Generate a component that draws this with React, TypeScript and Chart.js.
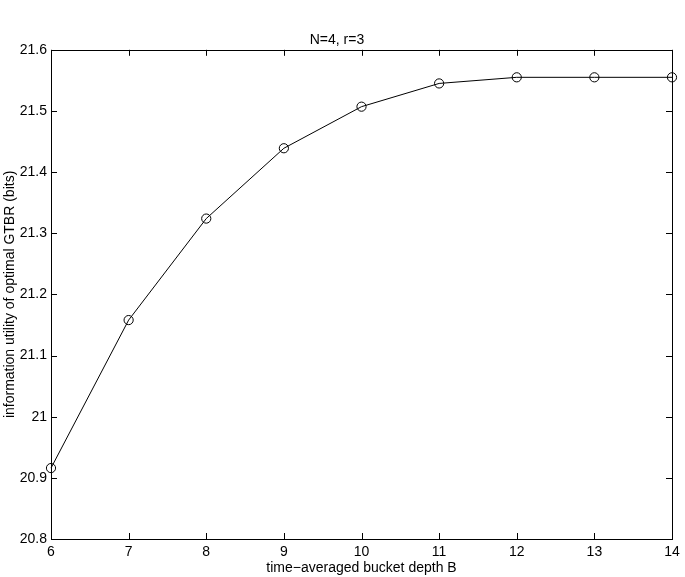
import React, { useEffect, useRef } from "react";
import { Chart, registerables } from "chart.js";

Chart.register(...registerables);

const depthB = [6, 7, 8, 9, 10, 11, 12, 13, 14];
const utilityBits = [20.916, 21.158, 21.324, 21.439, 21.507, 21.545, 21.555, 21.555, 21.555];
const yTicks = [20.8, 20.9, 21.0, 21.1, 21.2, 21.3, 21.4, 21.5, 21.6];
const xTicks = [6, 7, 8, 9, 10, 11, 12, 13, 14];

const chartTitle = "N=4, r=3";
const xTitle = "time\u2212averaged bucket depth B";
const yTitle = "information utility of optimal GTBR (bits)";

const FONT = "'Liberation Sans', Arial, Helvetica, sans-serif";

const boxPlugin = {
  id: "matlabBox",
  afterDatasetsDraw(chart: any) {
    const { ctx, chartArea, scales } = chart;
    const { left, right, top, bottom } = chartArea;
    const len = 6;
    ctx.save();
    ctx.strokeStyle = "#000";
    ctx.lineWidth = 1;
    ctx.beginPath();
    for (const v of yTicks) {
      const y = Math.round(scales.y.getPixelForValue(v)) + 0.5;
      ctx.moveTo(left, y);
      ctx.lineTo(left + len, y);
      ctx.moveTo(right, y);
      ctx.lineTo(right - len, y);
    }
    for (const v of xTicks) {
      const x = Math.round(scales.x.getPixelForValue(v)) + 0.5;
      ctx.moveTo(x, bottom);
      ctx.lineTo(x, bottom - len);
      ctx.moveTo(x, top);
      ctx.lineTo(x, top + len);
    }
    ctx.stroke();
    ctx.strokeRect(Math.round(left) + 0.5, Math.round(top) + 0.5, Math.round(right - left), Math.round(bottom - top));
    ctx.restore();
  },
};

export default function App() {
  const ref = useRef<HTMLCanvasElement | null>(null);

  useEffect(() => {
    if (!ref.current) return;
    const chart = new Chart(ref.current, {
      type: "line",
      data: {
        datasets: [
          {
            data: depthB.map((x, i) => ({ x, y: utilityBits[i] })),
            borderColor: "#000",
            borderWidth: 1,
            pointStyle: "circle",
            pointRadius: 4.6,
            pointBorderWidth: 1,
            pointBorderColor: "#000",
            pointBackgroundColor: "rgba(0,0,0,0)",
            fill: false,
            tension: 0,
            clip: false as any,
          },
        ],
      },
      options: {
        responsive: false,
        animation: false,
        layout: { padding: { left: 2, right: 13, top: 0, bottom: 0 } },
        plugins: {
          legend: { display: false },
          tooltip: { enabled: false },
          title: {
            display: true,
            text: chartTitle,
            color: "#000",
            font: { family: FONT, size: 14, weight: "normal" },
            padding: { top: 32, bottom: 1 },
          },
        },
        scales: {
          x: {
            type: "linear",
            min: 6,
            max: 14,
            afterFit: (s: any) => {
              s.height = 38;
            },
            afterBuildTicks: (s: any) => {
              s.ticks = xTicks.map((v) => ({ value: v }));
            },
            grid: { display: false, drawTicks: false },
            border: { display: false },
            ticks: {
              color: "#000",
              font: { family: FONT, size: 14 },
              padding: 5,
              maxRotation: 0,
              autoSkip: false,
              callback: (v: any) => String(v),
            },
            title: {
              display: true,
              text: xTitle,
              color: "#000",
              font: { family: FONT, size: 14 },
              padding: { top: 0, bottom: 0 },
            },
          },
          y: {
            type: "linear",
            min: 20.8,
            max: 21.6,
            afterFit: (s: any) => {
              s.width = 49;
            },
            afterBuildTicks: (s: any) => {
              s.ticks = yTicks.map((v) => ({ value: v }));
            },
            grid: { display: false, drawTicks: false },
            border: { display: false },
            ticks: {
              color: "#000",
              font: { family: FONT, size: 14 },
              padding: 4,
              autoSkip: false,
              callback: (v: any) => String(Number(Number(v).toFixed(1))),
            },
            title: {
              display: true,
              text: yTitle,
              color: "#000",
              font: { family: FONT, size: 14 },
              padding: { top: 0, bottom: 0 },
            },
          },
        },
      },
      plugins: [boxPlugin],
    });
    return () => chart.destroy();
  }, []);

  return (
    <div style={{ position: "absolute", left: 0, top: 0, width: 685, height: 577, background: "#fff" }}>
      <canvas ref={ref} width={685} height={577} style={{ display: "block" }} />
    </div>
  );
}
